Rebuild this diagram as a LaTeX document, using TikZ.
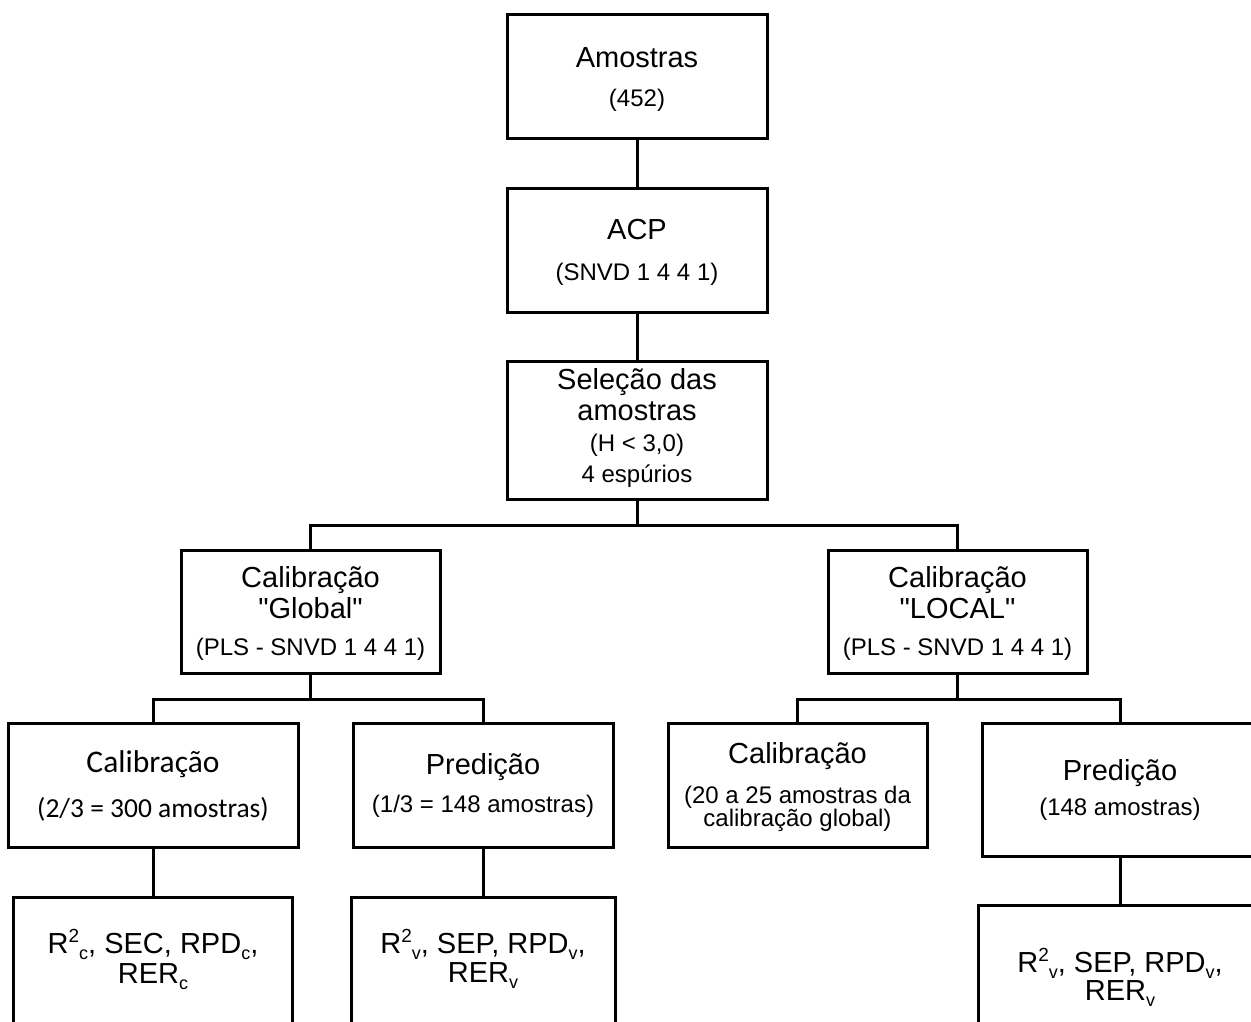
\documentclass[tikz,border=0pt]{standalone}
\usepackage{fontspec}
\setmainfont{Liberation Sans}
\newfontfamily\calfont{Carlito}
\newcommand\supx[1]{\raisebox{11pt}{\fontsize{19}{19}\selectfont #1}}
\newcommand\subx[1]{\raisebox{-6pt}{\fontsize{18}{18}\selectfont #1}}
\tikzset{
  box/.style={draw, line width=3pt, rectangle, inner sep=0pt},
  conn/.style={line width=3pt},
  big/.style={anchor=base, inner sep=0pt, font=\fontsize{29}{32}\selectfont},
  small/.style={anchor=base, inner sep=0pt, font=\fontsize{24}{24}\selectfont},
  cbig/.style={anchor=base, inner sep=0pt, font=\calfont\fontsize{31.5}{34}\selectfont},
  csmall/.style={anchor=base, inner sep=0pt, font=\calfont\fontsize{27.5}{30}\selectfont},
}
\begin{document}
\begin{tikzpicture}[x=1pt,y=-1pt]
\useasboundingbox (0,0) rectangle (1251,1021);
\clip (0,0) rectangle (1251,1021);
% boxes
\node[box, minimum width=260pt, minimum height=124pt] (am) at (637,76) {};
\node[box, minimum width=260pt, minimum height=124pt] (acp) at (637,250) {};
\node[box, minimum width=260pt, minimum height=138pt] (sel) at (637,430) {};
\node[box, minimum width=259pt, minimum height=123pt] (glob) at (310.5,611.5) {};
\node[box, minimum width=259pt, minimum height=123pt] (loc) at (957.5,611.5) {};
\node[box, minimum width=290pt, minimum height=124pt] (cal1) at (153,785) {};
\node[box, minimum width=260pt, minimum height=124pt] (pred1) at (483,785) {};
\node[box, minimum width=259pt, minimum height=124pt] (cal2) at (797.5,785) {};
\node[box, minimum width=276pt, minimum height=133pt] (pred2) at (1120,789.5) {};
\node[box, minimum width=279pt, minimum height=148pt] (res1) at (153,971) {};
\node[box, minimum width=264pt, minimum height=148pt] (res2) at (483,971) {};
\node[box, minimum width=284pt, minimum height=140pt] (res3) at (1120,975) {};
% texts
\node[big] (t1) at (637,67) {Amostras};
\node[small] (t2) at (637,106) {(452)};
\node[big] (t3) at (637,239) {ACP};
\node[small] (t4) at (637,280) {(SNVD 1 4 4 1)};
\node[big] (t5) at (637,389) {Seleção das};
\node[big] (t6) at (637,420) {amostras};
\node[small] (t7) at (637,451) {(H < 3,0)};
\node[small] (t8) at (637,482) {4 espúrios};
\node[big] (t9) at (310.5,587) {Calibração};
\node[big] (t10) at (310.5,618) {\textquotedbl Global\textquotedbl};
\node[small] (t11) at (310.5,655) {(PLS - SNVD 1 4 4 1)};
\node[big] (t12) at (957.5,587) {Calibração};
\node[big] (t13) at (957.5,618) {\textquotedbl LOCAL\textquotedbl};
\node[small] (t14) at (957.5,655) {(PLS - SNVD 1 4 4 1)};
\node[cbig] (t15) at (153,772) {Calibração};
\node[csmall] (t16) at (153,817) {(2/3 = 300 amostras)};
\node[big] (t17) at (483,774) {Predição};
\node[small] (t18) at (483,812) {(1/3 = 148 amostras)};
\node[big] (t19) at (797.5,763) {Calibração};
\node[small] (t20) at (797.5,803) {(20 a 25 amostras da};
\node[small] (t21) at (797.5,826) {calibração global)};
\node[big] (t22) at (1120,780) {Predição};
\node[small] (t23) at (1120,815) {(148 amostras)};
\node[big] (t24) at (153,953) {R\supx{2}\subx{c}, SEC, RPD\subx{c},};
\node[big] (t25) at (153,983) {RER\subx{c}};
\node[big] (t26) at (483,953) {R\supx{2}\subx{v}, SEP, RPD\subx{v},};
\node[big] (t27) at (483,982) {RER\subx{v}};
\node[big] (t28) at (1120,972) {R\supx{2}\subx{v}, SEP, RPD\subx{v},};
\node[big] (t29) at (1120,1000) {RER\subx{v}};
% connectors
\draw[conn] (am.south) -- (acp.north);
\draw[conn] (acp.south) -- (sel.north);
\draw[conn] (sel.south) -- ++(0,25) coordinate (j1) -| (glob.north);
\draw[conn] (j1) -| (loc.north);
\draw[conn] (glob.south) -- ++(0,25) coordinate (j2) -| (cal1.north);
\draw[conn] (j2) -| (pred1.north);
\draw[conn] (loc.south) -- ++(0,25) coordinate (j3) -| (cal2.north);
\draw[conn] (j3) -| (pred2.north);
\draw[conn] (cal1.south) -- (res1.north);
\draw[conn] (pred1.south) -- (res2.north);
\draw[conn] (pred2.south) -- (res3.north);
\end{tikzpicture}
\end{document}
